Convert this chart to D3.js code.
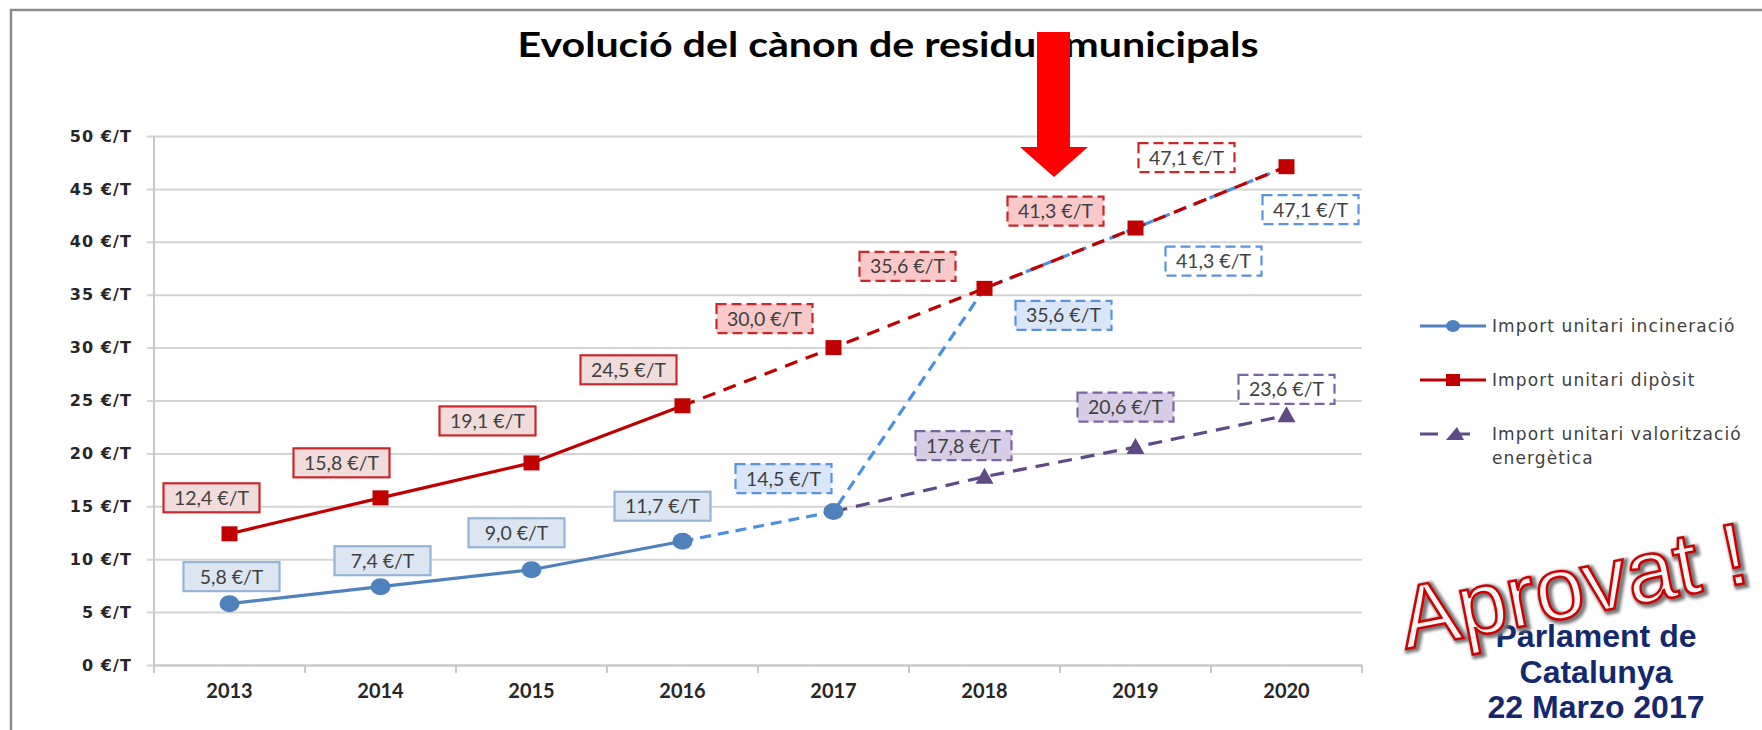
<!DOCTYPE html>
<html><head><meta charset="utf-8">
<script src="https://cdn.jsdelivr.net/npm/d3@7"></script>
<style>body{margin:0;background:#fff;overflow:hidden}svg{display:block}</style>
</head><body>
<svg id="c" width="1762" height="730"></svg>
<script>
// ---------- DATA ----------
const years = ["2013","2014","2015","2016","2017","2018","2019","2020"];
const incineracio = [5.8, 7.4, 9.0, 11.7, 14.5, 35.6, 41.3, 47.1];
const diposit = [12.4, 15.8, 19.1, 24.5, 30.0, 35.6, 41.3, 47.1];
const valoritzacio = [null, null, null, null, 14.5, 17.8, 20.6, 23.6];
const yTicks = [0, 5, 10, 15, 20, 25, 30, 35, 40, 45, 50];
const seriesNames = ["Import unitari incineració", "Import unitari dipòsit", ["Import unitari valorització", "energètica"]];
const titleText = "Evolució del cànon de residus municipals";
const stampText = "Aprovat !";
const noteLines = ["Parlament de", "Catalunya", "22 Marzo 2017"];
const fmt = v => d3.format(".1f")(v).replace(".", ",") + " €/T";

// ---------- LAYOUT ----------
const svg = d3.select("#c");
const L = 154, R = 1362, T = 136, B = 665;
const x = d3.scaleBand().domain(years).range([L, R]);
const cx = d => x(d) + x.bandwidth() / 2;
const y = d3.scaleLinear().domain([0, 50]).range([B, T]);

const defs = svg.append("defs");
defs.append("filter").attr("id", "blur").append("feGaussianBlur").attr("stdDeviation", 1.6);

// frame
svg.append("rect").attr("x", 11).attr("y", 10).attr("width", 1800).attr("height", 800)
  .attr("fill", "none").attr("stroke", "#8a8a8a").attr("stroke-width", 2.5);

// gridlines
svg.append("g").attr("transform", `translate(${L - 7},0)`)
  .call(d3.axisLeft(y).tickValues(yTicks).tickSize(-(R - L + 7)).tickFormat(""))
  .call(g => g.select(".domain").remove())
  .call(g => g.selectAll("line").attr("stroke", "#d4d4d4").attr("stroke-width", 2));

// y labels
svg.append("g").attr("transform", `translate(${L},0)`)
  .call(d3.axisLeft(y).tickValues(yTicks).tickSize(0).tickPadding(22).tickFormat(d => d + " €/T"))
  .call(g => g.select(".domain").remove())
  .call(g => g.selectAll("text").attr("font-family", "DejaVu Sans").attr("font-weight", "bold")
    .attr("font-size", 16).attr("letter-spacing", 1.1).attr("fill", "#262626"));

// y axis line
svg.append("line").attr("x1", L).attr("x2", L).attr("y1", T).attr("y2", B + 7)
  .attr("stroke", "#c8c8c8").attr("stroke-width", 2);

// x axis
svg.append("g").attr("transform", `translate(0,${B})`)
  .call(d3.axisBottom(x).tickSize(0).tickPadding(0))
  .call(g => g.select(".domain").attr("stroke", "#c8c8c8").attr("stroke-width", 2))
  .call(g => g.selectAll("text").attr("y", 33).attr("dy", 0)
    .attr("font-family", "Lato").attr("font-weight", "bold").attr("font-size", 20).attr("fill", "#262626"));
const bounds = years.map(d => x(d)).concat([R]);
svg.append("g").selectAll("line").data(bounds).join("line")
  .attr("x1", d => d).attr("x2", d => d).attr("y1", B).attr("y2", B + 8)
  .attr("stroke", "#c8c8c8").attr("stroke-width", 2);

// ---------- LINES ----------
const mk = (vals, from, to) => d3.line().defined((d, i) => d != null && i >= from && i <= to)
  .x((d, i) => cx(years[i])).y(d => y(d))(vals);
const red = "#c00000", blue = "#4f81bd", blueD = "#4a8fe0", purple = "#5e4a86";
const lines = svg.append("g").attr("fill", "none");
lines.append("path").attr("d", mk(incineracio, 0, 3)).attr("stroke", blue).attr("stroke-width", 3.2);
lines.append("path").attr("d", mk(incineracio, 3, 7)).attr("stroke", blueD).attr("stroke-width", 3.2).attr("stroke-dasharray", "11,7");
lines.append("path").attr("d", mk(diposit, 0, 3)).attr("stroke", red).attr("stroke-width", 3.2);
lines.append("path").attr("d", mk(diposit, 3, 7)).attr("stroke", red).attr("stroke-width", 3.2).attr("stroke-dasharray", "13,9");
lines.append("path").attr("d", mk(valoritzacio, 4, 7)).attr("stroke", purple).attr("stroke-width", 3.2).attr("stroke-dasharray", "14,9");

// markers
svg.append("g").selectAll("ellipse").data(incineracio.slice(0, 5)).join("ellipse")
  .attr("cx", (d, i) => cx(years[i])).attr("cy", d => y(d)).attr("rx", 10).attr("ry", 8.5).attr("fill", blue);
svg.append("g").selectAll("rect").data(diposit).join("rect")
  .attr("x", (d, i) => cx(years[i]) - 8).attr("y", d => y(d) - 7.5).attr("width", 16).attr("height", 15).attr("fill", red);
svg.append("g").selectAll("path").data(valoritzacio).join("path")
  .filter((d, i) => i >= 5)
  .attr("transform", (d, i) => `translate(${cx(years[i + 5])},${y(d)})`)
  .attr("d", "M0,-9L9,7L-9,7Z").attr("fill", purple);

// ---------- LABELS ----------
const redOff = [[-18,-36],[-39,-35],[-44,-42],[-54,-36],[-69,-29],[-77,-22],[-80,-17],[-100,-9]];
const blueOff = [[2,-27],[2,-26],[-15,-37],[-20,-35],[-50,-33],[79,27],[78,33],[24,43]];
const purOff = [null,null,null,null,null,[-21,-31],[-10,-40],[0,-26]];
const redSt = i => ({stroke: "#c8282c", fill: i < 4 ? "#f2dcdb" : (i < 7 ? "#f9c9c9" : "#ffffff"), dash: i >= 4});
const blueSt = i => ({stroke: i < 4 ? "#95b3d7" : "#5b93dc", fill: i < 6 ? (i < 4 ? "#dce6f2" : "#d9e6fa") : "#ffffff", dash: i >= 4});
const purSt = i => ({stroke: "#7a66a2", fill: i < 7 ? "#d7cde6" : "#ffffff", dash: true});
function labels(vals, offs, st) {
  const g = svg.append("g");
  vals.forEach((v, i) => {
    if (v == null || !offs[i]) return;
    const s = st(i);
    const px = cx(years[i]) + offs[i][0], py = y(v) + offs[i][1];
    g.append("rect").attr("x", px - 48).attr("y", py - 14.5).attr("width", 96).attr("height", 29)
      .attr("fill", s.fill).attr("stroke", s.stroke).attr("stroke-width", 2.2)
      .attr("stroke-dasharray", s.dash ? "10,5" : null);
    g.append("text").attr("x", px).attr("y", py).attr("dy", "0.36em").attr("text-anchor", "middle")
      .attr("font-family", "Lato").attr("font-size", 19.5).attr("fill", "#3f3f3f").text(fmt(v));
  });
}
labels(diposit, redOff, redSt);
labels(incineracio, blueOff, blueSt);
labels(valoritzacio, purOff, purSt);

// ---------- LEGEND ----------
const lg = svg.append("g");
const legY = [326, 380, 434];
lg.append("line").attr("x1", 1420).attr("x2", 1486).attr("y1", legY[0]).attr("y2", legY[0]).attr("stroke", blue).attr("stroke-width", 3);
lg.append("ellipse").attr("cx", 1453).attr("cy", legY[0]).attr("rx", 7).attr("ry", 6).attr("fill", blue);
lg.append("line").attr("x1", 1420).attr("x2", 1486).attr("y1", legY[1]).attr("y2", legY[1]).attr("stroke", red).attr("stroke-width", 3);
lg.append("rect").attr("x", 1446).attr("y", legY[1] - 6).attr("width", 14).attr("height", 12).attr("fill", red);
lg.append("line").attr("x1", 1420).attr("x2", 1438).attr("y1", legY[2]).attr("y2", legY[2]).attr("stroke", purple).attr("stroke-width", 3);
lg.append("line").attr("x1", 1460).attr("x2", 1470).attr("y1", legY[2]).attr("y2", legY[2]).attr("stroke", purple).attr("stroke-width", 3);
lg.append("path").attr("transform", `translate(1455,${legY[2]})`).attr("d", "M2,-7L9,6L-9,6Z").attr("fill", purple);
seriesNames.forEach((n, i) => {
  const t = lg.append("text").attr("x", 1492).attr("y", legY[i]).attr("dy", "0.35em")
    .attr("font-family", "DejaVu Sans").attr("font-size", 17).attr("letter-spacing", 1.1).attr("fill", "#404040");
  if (Array.isArray(n)) n.forEach((s, k) => t.append("tspan").attr("x", 1492).attr("dy", k ? "1.4em" : "0.35em").text(s));
  else t.text(n);
});

// ---------- TITLE ----------
svg.append("text").attr("x", 888).attr("y", 57).attr("text-anchor", "middle")
  .attr("font-family", "Lato").attr("font-weight", "bold").attr("font-size", 34)
  .attr("textLength", 741).attr("lengthAdjust", "spacingAndGlyphs").attr("fill", "#000").text(titleText);

// red arrow
svg.append("path").attr("d", "M1037,32L1070,32L1070,147L1088,147L1054,177L1020,147L1037,147Z").attr("fill", "#ff0000");

// ---------- NOTE & STAMP ----------
const ng = svg.append("g").attr("font-family", "Liberation Sans").attr("font-weight", "bold")
  .attr("font-size", 32).attr("fill", "#14286e").attr("text-anchor", "middle");
[647, 683, 718].forEach((yy, i) => ng.append("text").attr("x", 1596).attr("y", yy).text(noteLines[i]));

const sg = svg.append("g").attr("transform", "translate(1406,649) rotate(-11)");
sg.append("text").attr("x", 2).attr("y", 2).attr("font-family", "Liberation Sans").attr("font-size", 88)
  .attr("fill", "none").attr("stroke", "#777").attr("stroke-width", 6).attr("filter", "url(#blur)").text(stampText);
sg.append("text").attr("x", 0).attr("y", 0).attr("font-family", "Liberation Sans").attr("font-size", 88)
  .attr("fill", "#f6f6f6").attr("stroke", "#d00000").attr("stroke-width", 2.5).text(stampText);
</script>
</body></html>
